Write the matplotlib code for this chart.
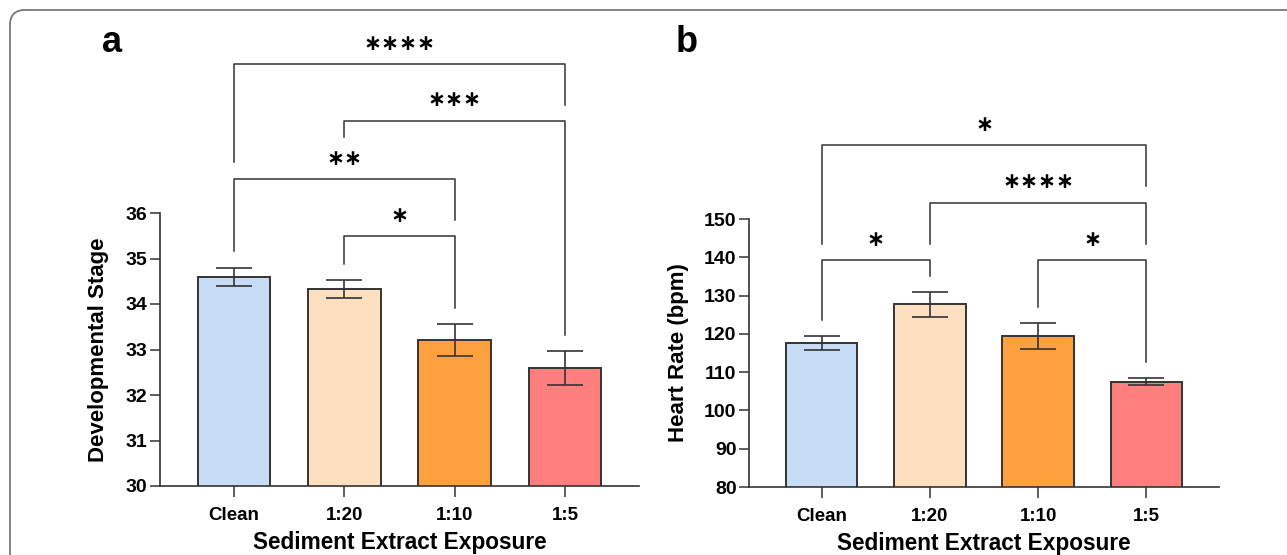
import matplotlib
matplotlib.use('Agg')
import matplotlib.pyplot as plt
from matplotlib.patches import FancyBboxPatch

plt.rcParams['font.family'] = ['Liberation Sans', 'DejaVu Sans']
plt.rcParams['font.weight'] = 'bold'

groups = ['Clean', '1:20', '1:10', '1:5']
colors = ['#C7DDF6', '#FEDFBF', '#FEA03D', '#FF7F7F']

# panel a: developmental stage
stage_mean = [34.6, 34.33, 33.2, 32.6]
stage_err = [0.2, 0.19, 0.35, 0.37]
# (left group, right group, bracket height, left leg end, right leg end, label)
stage_sig = [
    (0, 3, 39.28, 37.12, 38.38, '****'),
    (1, 3, 38.03, 37.67, 33.31, '***'),
    (0, 2, 36.75, 35.17, 35.84, '**'),
    (1, 2, 35.49, 34.88, 33.91, '*'),
]

# panel b: heart rate
hr_mean = [117.6, 127.7, 119.5, 107.5]
hr_err = [1.8, 3.2, 3.4, 0.9]
hr_sig = [
    (0, 3, 169.2, 143.5, 158.7, '*'),
    (1, 3, 154.3, 143.5, 143.5, '****'),
    (0, 1, 139.2, 123.7, 135.0, '*'),
    (2, 3, 139.2, 127.0, 112.6, '*'),
]

W, H = 1287, 555
fig = plt.figure(figsize=(W / 100, H / 100), dpi=100)

# rounded frame around the figure
frame = FancyBboxPatch((0.1, -0.3), 13.4, 5.55 - 0.1 + 0.3,
                       boxstyle='round,pad=0,rounding_size=0.15',
                       transform=fig.dpi_scale_trans, fill=False,
                       edgecolor='#777777', linewidth=1.3, clip_on=False)
fig.patches.append(frame)

ax1 = fig.add_axes([160 / W, (H - 486) / H, (639 - 160) / W, 273 / H])
ax2 = fig.add_axes([749 / W, (H - 487) / H, (1219 - 749) / W, 268 / H])

line_c = '#333333'


def draw_panel(ax, means, errs, sig, ylim, ticks, ylabel, ypad):
    x = range(len(groups))
    ax.bar(x, means, width=0.66, color=colors, edgecolor=line_c, linewidth=1.4, zorder=2)
    ax.errorbar(x, means, yerr=errs, fmt='none', ecolor=line_c, elinewidth=1.2,
                capsize=13, capthick=1.2, zorder=3)
    ax.set_xlim(-0.67, 3.67)
    ax.set_ylim(*ylim)
    ax.set_yticks(ticks)
    ax.set_xticks(list(x))
    ax.set_xticklabels(groups)
    for s in ['top', 'right']:
        ax.spines[s].set_visible(False)
    for s in ['left', 'bottom']:
        ax.spines[s].set_linewidth(1.2)
        ax.spines[s].set_color(line_c)
    ax.tick_params(axis='y', length=7, width=1.1, color=line_c, labelsize=14, pad=2)
    ax.tick_params(axis='x', length=8, width=1.1, color=line_c, labelsize=13.5, pad=7)
    ax.set_ylabel(ylabel, fontsize=16, fontweight='bold', labelpad=ypad)
    ax.set_xlabel('Sediment Extract Exposure', fontsize=16.3, fontweight='bold', labelpad=5)
    for i, j, top, lend, rend, lab in sig:
        ax.plot([i, i, j, j], [lend, top, top, rend], color=line_c, lw=1.1,
                clip_on=False, zorder=4)
        ax.annotate('\u2217' * len(lab), xy=((i + j) / 2, top), xytext=(0, 14.5),
                    textcoords='offset points', ha='center', va='center',
                    fontsize=15.5, fontweight='bold', family='DejaVu Sans',
                    annotation_clip=False)


draw_panel(ax1, stage_mean, stage_err, stage_sig, (30, 36), range(30, 37),
           'Developmental Stage', 12)
draw_panel(ax2, hr_mean, hr_err, hr_sig, (80, 150), range(80, 151, 10),
           'Heart Rate (bpm)', 11)

fig.text(112 / W, 1 - 43 / H, 'a', ha='center', va='center', fontsize=26, fontweight='bold')
fig.text(687 / W, 1 - 43 / H, 'b', ha='center', va='center', fontsize=26, fontweight='bold')

fig.savefig('out.png', dpi=100)
